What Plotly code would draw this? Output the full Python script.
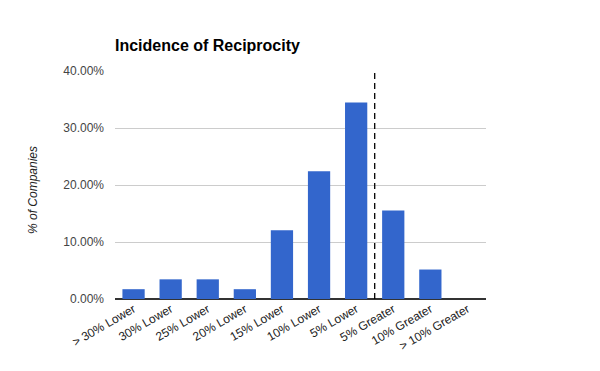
import plotly.graph_objects as go

categories = ["> 30% Lower", "30% Lower", "25% Lower", "20% Lower", "15% Lower",
              "10% Lower", "5% Lower", "5% Greater", "10% Greater", "> 10% Greater"]
values = [0.0172, 0.0345, 0.0345, 0.0172, 0.1207, 0.2241, 0.3448, 0.1552, 0.0517, 0.0]
divider_position = 6.5
y_ticks = [0, 0.1, 0.2, 0.3, 0.4]

FONT = "Liberation Sans, Arial, sans-serif"
OFF = 8  # page body margin
W, H = 600 - OFF, 371 - OFF
L, T = 115 - OFF, 71 - OFF
R = W - (486 - OFF)
B = H - (299 - OFF)
PW, PH = W - L - R, H - T - B

fig = go.Figure()
fig.add_trace(go.Bar(
    x=list(range(len(categories))), y=values,
    marker=dict(color="#3366cc", line=dict(width=0)),
    hoverinfo="skip",
))

fig.add_shape(type="line", xref="x", yref="paper",
              x0=divider_position, x1=divider_position, y0=0, y1=1,
              line=dict(color="black", width=1.3, dash="6px,4px"))

fig.add_annotation(text="<i>% of Companies</i>", textangle=-90,
                   xref="paper", yref="paper",
                   x=(33 - 115) / PW, y=1 - (190 - 71) / PH,
                   xanchor="center", yanchor="middle", showarrow=False,
                   font=dict(family=FONT, size=12, color="#222"))

fig.update_layout(
    width=W, height=H,
    margin=dict(l=L, r=R, t=T, b=B, autoexpand=False),
    paper_bgcolor="white", plot_bgcolor="white",
    bargap=0.4,
    showlegend=False,
    font=dict(family=FONT, size=12, color="#444"),
    title=dict(text="<b>Incidence of Reciprocity</b>", x=(115 - OFF) / W, xanchor="left",
               y=1 - (45 - OFF) / H, yanchor="middle",
               font=dict(family=FONT, size=16, color="black")),
    xaxis=dict(
        tickmode="array", tickvals=list(range(len(categories))), ticktext=categories,
        tickangle=-30, range=[-0.5, len(categories) - 0.5], automargin=False,
        showgrid=False, zeroline=False, showline=False, ticks="",
        tickfont=dict(family=FONT, size=12, color="#222"),
    ),
    yaxis=dict(
        range=[0, 0.4], tickvals=y_ticks, tickformat=".2%", automargin=False,
        showgrid=True, gridcolor="#cccccc", gridwidth=1,
        zeroline=True, zerolinecolor="#333333", zerolinewidth=1.5,
        ticks="", ticklabelstandoff=10,
        tickfont=dict(family=FONT, size=12, color="#444"),
    ),
)

fig.write_html("out.html")
